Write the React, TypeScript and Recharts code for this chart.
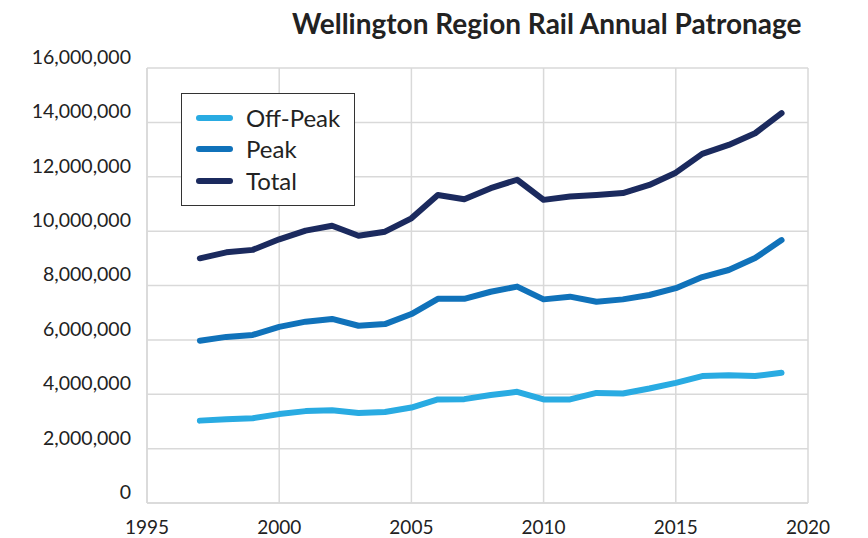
import React from 'react';
import { LineChart, Line, XAxis, YAxis, CartesianGrid } from 'recharts';

const years = [1997, 1998, 1999, 2000, 2001, 2002, 2003, 2004, 2005, 2006, 2007, 2008, 2009, 2010, 2011, 2012, 2013, 2014, 2015, 2016, 2017, 2018, 2019];

const offPeak = [3030000, 3080000, 3120000, 3270000, 3380000, 3410000, 3310000, 3350000, 3510000, 3810000, 3820000, 3970000, 4090000, 3810000, 3810000, 4050000, 4030000, 4210000, 4420000, 4670000, 4700000, 4670000, 4790000];
const peak = [5970000, 6110000, 6180000, 6480000, 6670000, 6770000, 6520000, 6580000, 6950000, 7510000, 7510000, 7770000, 7960000, 7490000, 7590000, 7400000, 7490000, 7650000, 7900000, 8310000, 8570000, 9010000, 9670000];
const total = [9000000, 9220000, 9310000, 9700000, 10020000, 10200000, 9830000, 9980000, 10470000, 11330000, 11170000, 11580000, 11890000, 11150000, 11270000, 11330000, 11400000, 11700000, 12150000, 12840000, 13170000, 13600000, 14340000];

const xTicks = [1995, 2000, 2005, 2010, 2015, 2020];
const yTicks = [0, 2000000, 4000000, 6000000, 8000000, 10000000, 12000000, 14000000, 16000000];

const title = 'Wellington Region Rail Annual Patronage';

const series = [
  { key: 'offPeak', name: 'Off-Peak', color: '#29abe2' },
  { key: 'peak', name: 'Peak', color: '#1072ba' },
  { key: 'total', name: 'Total', color: '#1b2a5e' },
];

const data = years.map((y, i) => ({ year: y, offPeak: offPeak[i], peak: peak[i], total: total[i] }));

const FONT = 'Lato, "Open Sans", sans-serif';

// legend drawn as a plain box on top of the plot, like the original
function LegendBox() {
  return (
    <div
      style={{
        position: 'absolute', left: 181, top: 93, width: 174, height: 113, boxSizing: 'border-box',
        border: '1px solid #333', background: '#fff', paddingTop: 8, zIndex: 2,
      }}
    >
      {series.map((s) => (
        <div key={s.key} style={{ display: 'flex', alignItems: 'center', height: 31.5 }}>
          <svg width={64} height={10} style={{ flex: 'none' }}>
            <line x1={17} y1={5} x2={48} y2={5} stroke={s.color} strokeWidth={6} strokeLinecap="round" />
          </svg>
          <span style={{ fontFamily: FONT, fontSize: 24, color: '#222', lineHeight: '24px' }}>{s.name}</span>
        </div>
      ))}
    </div>
  );
}

export default function App() {
  return (
    <div style={{ position: 'relative', width: 868, height: 538, background: '#fff' }}>
      <style>{`body{margin:0}`}</style>
      <div style={{ position: 'absolute', left: 292, top: 6, fontFamily: FONT, fontWeight: 700, fontSize: 28, color: '#222', whiteSpace: 'nowrap', zIndex: 2 }}>
        {title}
      </div>
      <LegendBox />
      <LineChart width={868} height={538} data={data} margin={{ top: 68, right: 60, bottom: 0, left: 0 }}>
        <CartesianGrid stroke="#d9d9d9" strokeWidth={1.5} />
        <XAxis
          dataKey="year"
          type="number"
          domain={[1995, 2020]}
          ticks={xTicks}
          allowDataOverflow
          height={35}
          tickLine={false}
          axisLine={{ stroke: '#d9d9d9', strokeWidth: 1.5 }}
          tickMargin={12}
          tick={{ fill: '#222', fontSize: 19, fontFamily: FONT }}
        />
        <YAxis
          type="number"
          domain={[0, 16000000]}
          ticks={yTicks}
          width={147}
          tickLine={false}
          axisLine={{ stroke: '#d9d9d9', strokeWidth: 1.5 }}
          tickMargin={10}
          tickFormatter={(v: number) => v.toLocaleString('en-US')}
          tick={{ fill: '#222', fontSize: 19.5, fontFamily: FONT, dy: -11 }}
        />
        {series.map((s) => (
          <Line
            key={s.key}
            type="linear"
            dataKey={s.key}
            name={s.name}
            stroke={s.color}
            strokeWidth={6}
            strokeLinecap="round"
            strokeLinejoin="round"
            dot={false}
            activeDot={false}
            isAnimationActive={false}
          />
        ))}
      </LineChart>
    </div>
  );
}
